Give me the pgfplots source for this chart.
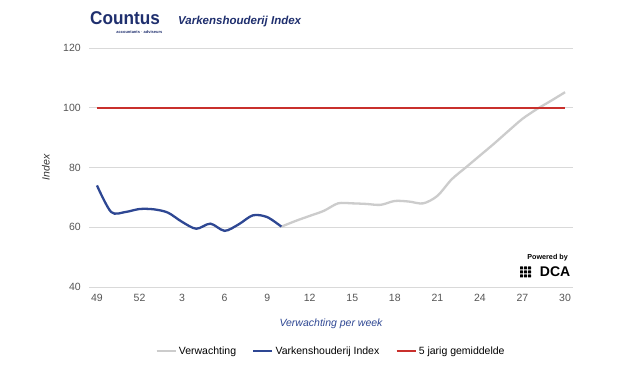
\documentclass[border=0pt]{standalone}
\usepackage{pgfplots}
\pgfplotsset{compat=1.18}
\usepackage{fontspec}
\setmainfont{Liberation Sans}
\definecolor{navy}{HTML}{1F2F6E}
\definecolor{serblue}{HTML}{2E4793}
\definecolor{serred}{HTML}{C9302C}
\definecolor{sergray}{HTML}{CCCCCC}
\definecolor{gridc}{HTML}{D9D9D9}
\definecolor{tickc}{HTML}{555555}
\begin{document}
\begin{tikzpicture}[x=1pt,y=1pt]
\fill[white] (0,0) rectangle (625,374);
% header
\node[anchor=base west, inner sep=0, text=navy] at (90,349) {\fontsize{18.5}{19}\selectfont\bfseries\scalebox{0.93}[1]{Countus}};
\node[anchor=base east, inner sep=0, text=navy] at (162.5,340.8) {\fontsize{4}{4}\selectfont\bfseries accountants\,$\cdot$\,adviseurs};
\node[anchor=west, inner sep=0, text=navy] at (178,352) {\fontsize{11.5}{12}\selectfont\bfseries\itshape Varkenshouderij Index};
\begin{axis}[
  at={(89.3pt,87pt)}, anchor=south west,
  scale only axis, width=483.4pt, height=239pt,
  xmin=-0.54, xmax=33.54, ymin=40, ymax=120,
  xtick={0,3,...,33},
  xticklabels={49,52,3,6,9,12,15,18,21,24,27,30},
  ytick={40,60,...,120},
  axis line style={draw=none},
  major tick length=0pt,
  ymajorgrids, grid style={gridc, line width=0.8pt},
  tick label style={font=\fontsize{10.5}{12}\selectfont, text=tickc},
  /pgf/number format/assume math mode=true,
  xticklabel style={yshift=-4pt},
  yticklabel style={xshift=-5pt},
  xlabel={Verwachting per week},
  xlabel style={font=\fontsize{10.5}{12}\selectfont\itshape, text=serblue, at={(axis description cs:0.5,-0.155)}, anchor=center},
  ylabel={Index},
  ylabel style={font=\fontsize{10.5}{12}\selectfont\itshape, text=black!80, at={(axis description cs:-0.09,0.5)}, anchor=center},
  legend style={at={(axis description cs:0.5,-0.268)}, anchor=center, draw=none, fill=none,
    legend columns=3, font=\fontsize{10.5}{12}\selectfont,
    /tikz/every even column/.append style={column sep=14pt}},
  legend image code/.code={\draw[#1, line width=2.5pt] (0pt,0pt) -- (19pt,0pt);},
  clip=false,
]
\addplot[sergray, line width=2.3pt, smooth] coordinates {
(13,60.2) (14,62.1) (15,63.8) (16,65.5) (17,68) (18,68) (19,67.8) (20,67.5) (21,68.8) (22,68.6) (23,68) (24,70.5) (25,76) (26,80) (27,84) (28,88) (29,92.2) (30,96.3) (31,99.5) (32,102.3) (33,105.2)};
\addlegendentry{Verwachting}
\addplot[serblue, line width=2.3pt, smooth] coordinates {
(0,74) (1,65.1) (2,65.1) (3,66.1) (4,66) (5,64.9) (6,61.8) (7,59.5) (8,61.2) (9,58.8) (10,61) (11,64) (12,63.4) (13,60.2)};
\addlegendentry{Varkenshouderij Index}
\addplot[serred, line width=2.3pt] coordinates {(0,100) (33,100)};
\addlegendentry{5 jarig gemiddelde}
\end{axis}
% Powered by DCA
\node[anchor=east, inner sep=0] at (568,116) {\fontsize{7.2}{8}\selectfont\bfseries Powered by};
\node[anchor=east, inner sep=0] at (570.5,102) {\fontsize{14}{14}\selectfont\bfseries DCA};
\foreach \i in {0,1,2} \foreach \j in {0,1,2} {
  \fill[black, rounded corners=0.4pt] (520+\i*4,96.5+\j*4) rectangle ++(3,3);
}
\end{tikzpicture}
\end{document}
